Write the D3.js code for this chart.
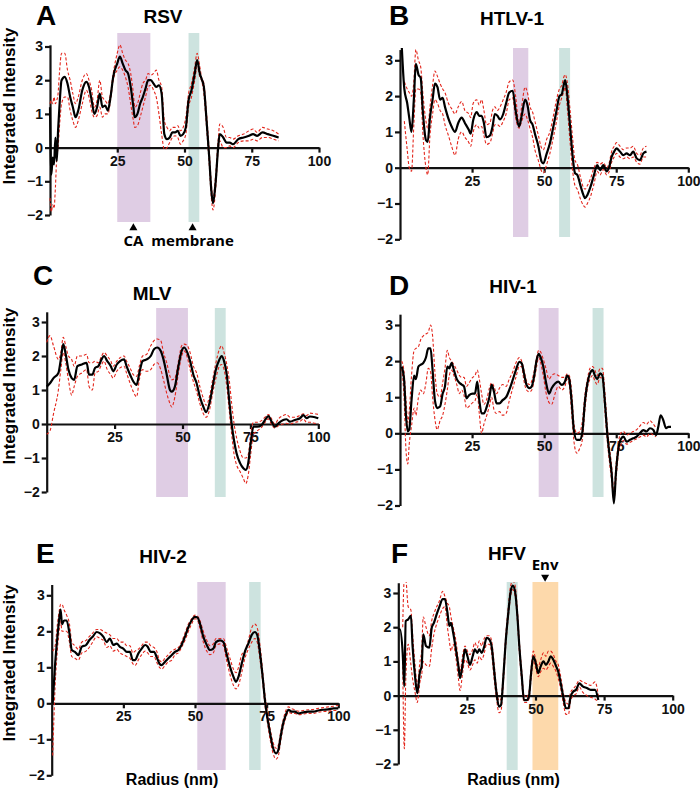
<!DOCTYPE html>
<html>
<head>
<meta charset="utf-8">
<script src="https://cdn.jsdelivr.net/npm/d3@7"></script>
<style>
  body { margin: 0; background: #fff; }
  svg text { font-family: "Liberation Sans", Arial, sans-serif; font-weight: bold; }
  .axis path, .axis line { stroke: #111; stroke-width: 2.2px; }
  .mean { fill: none; stroke: #000; stroke-width: 2.2px; }
  .spread { fill: none; stroke: #e3261c; stroke-width: 1.1px; stroke-dasharray: 3,2; }
  .note { font-family: "Open Sans", sans-serif !important; font-size: 15px; }
</style>
</head>
<body>
<svg id="chart"></svg>
<script>
// ---------- data (radius in nm, integrated intensity) ----------
const panelLetters = ["A", "B", "C", "D", "E", "F"];
const virusNames = ["RSV", "HTLV-1", "MLV", "HIV-1", "HIV-2", "HFV"];
const xTicks = [25, 50, 75, 100];
const yTicks = [-2, -1, 0, 1, 2, 3];

// RSV
const rsvRadius = [0,0.5,1,1.5,2,2.5,3,3.5,4.3,5.5,6.5,7.5,8.5,9.5,10.5,12,13.5,14.5,15.5,16.5,17.5,18.5,19.5,20.5,21.5,22.5,23.5,25,26,27,28,29,30,31,31.5,32.5,33.5,34.5,35.5,36.5,37.5,38.5,39.5,40.5,41.5,42.5,43.5,44.5,45.5,46.5,47.5,48.5,49.5,50.5,51.5,52.6,53.8,54.7,55.7,56.3,57.2,58.2,59.2,60,60.6,61.6,62.5,63.1,64.4,65.6,66.8,68,70,72,74,75.5,77,79,81,83,85];
const rsvMean  = [1.2,-0.8,-0.3,-0.5,0.3,-0.4,0.5,1.2,2.0,2.1,1.9,1.5,1.2,0.9,1.1,1.7,1.95,1.8,1.4,1.0,1.2,1.6,1.2,1.25,1.1,1.5,2.1,2.5,2.7,2.5,2.3,2.2,1.8,1.2,0.9,1.0,1.3,1.5,1.75,2.0,2.0,1.9,1.8,1.85,1.6,0.4,0.25,0.3,0.45,0.45,0.5,0.35,0.4,0.6,1.4,1.7,2.2,2.6,2.2,2.05,1.8,0.8,-0.3,-1.3,-1.65,-1.0,0.0,0.4,0.3,0.15,0.15,0.1,0.25,0.3,0.35,0.4,0.35,0.45,0.4,0.35,0.3];
const rsvUpper = [1.3,1.4,1.3,1.5,1.3,1.4,1.6,2.2,2.8,2.8,2.3,2.0,1.6,1.3,1.5,2.0,2.2,2.0,1.7,1.2,1.4,2.0,1.5,1.4,1.3,1.6,2.2,2.8,3.05,2.8,2.6,2.5,2.2,1.6,1.2,1.3,1.6,1.9,2.0,2.2,2.15,2.2,2.3,2.0,1.8,0.8,0.6,0.5,0.6,0.6,0.65,0.5,0.6,0.9,1.6,1.9,2.4,2.8,2.4,2.1,1.9,1.0,-0.1,-1.1,-1.5,-0.8,0.2,0.7,0.6,0.3,0.3,0.25,0.35,0.4,0.5,0.55,0.45,0.6,0.55,0.5,0.4];
const rsvLower = [-1.5,-1.9,-1.7,-1.8,-1.2,-0.3,0.0,0.6,1.3,1.5,1.5,1.1,0.8,0.6,0.8,1.3,1.7,1.5,1.1,0.9,0.95,1.2,0.9,1.0,1.0,1.4,2.0,2.3,2.4,2.3,2.1,1.8,1.3,0.8,0.6,0.65,0.9,1.2,1.5,1.8,1.85,1.7,1.5,1.0,0.4,-0.05,0.0,0.15,0.3,0.35,0.3,0.1,0.2,0.4,1.2,1.5,2.0,2.4,2.1,2.0,1.6,0.6,-0.5,-1.5,-1.85,-1.2,-0.1,0.2,0.0,0.0,0.05,0.0,0.15,0.2,0.2,0.25,0.2,0.3,0.3,0.25,0.2];

// HTLV-1
const htlvRadius = [0.6,1.5,2.5,3.2,4,4.8,5.5,6.4,7.2,7.9,9,9.6,10.4,11.3,12.1,13,13.9,14.8,15.6,16.8,17.9,19.1,20.2,21.4,22.5,23.9,24.5,25.4,26.6,27.5,28.3,29.1,30,31.2,32.1,32.9,33.8,34.7,35.8,36.8,37.9,39.1,40.1,41.3,42.2,43.4,44.2,45.1,46,46.8,48,49.1,49.7,50.9,52,53.2,54.3,55.3,56.1,56.9,57.3,58,59,59.9,60.7,61.5,62.7,63.6,64.2,65,66.1,67.3,68.4,69.4,70.5,71.7,72.6,73.4,74.3,75.1,76.3,77.5,78.6,79.8,80.9,82.1,83.2,84.4,85.5];
const htlvMean  = [3.4,2.2,1.8,1.4,1.0,1.9,2.9,2.6,2.5,1.6,0.77,0.72,1.4,1.9,2.35,2.25,1.9,1.95,1.7,1.37,1.15,1.0,1.25,1.4,1.25,1.05,0.95,1.33,1.55,1.45,1.45,1.25,0.85,0.9,1.15,1.5,1.45,1.35,1.5,1.8,2.1,2.15,1.6,1.15,1.45,1.9,1.75,1.33,1.2,0.95,0.6,0.17,0.12,0.4,0.68,1.15,1.6,2.0,2.05,2.35,2.45,2.05,1.15,0.3,-0.15,-0.2,-0.53,-0.76,-0.85,-0.76,-0.53,-0.2,0.07,-0.07,0.07,-0.1,0.03,0.3,0.45,0.54,0.45,0.35,0.4,0.35,0.45,0.26,0.21,0.4,0.45];
const htlvUpper = [null,2.4,2.2,2.1,2.0,2.4,3.3,3.0,2.8,2.1,1.3,1.1,1.7,2.3,2.7,2.55,2.35,2.2,2.1,1.8,1.65,1.5,1.7,1.85,1.6,1.5,1.4,1.8,1.9,1.75,1.9,1.6,1.2,1.25,1.6,1.7,1.6,1.7,1.9,2.1,2.4,2.45,2.0,1.2,1.7,2.25,2.1,1.7,1.55,1.3,0.9,0.55,0.5,0.8,1.0,1.45,1.9,2.2,2.3,2.55,2.6,2.4,1.6,0.8,0.2,0.1,-0.3,-0.55,-0.6,-0.5,-0.3,0.0,0.15,0.1,0.15,0.0,0.15,0.45,0.6,0.7,0.6,0.5,0.55,0.55,0.6,0.4,0.35,0.55,0.6];
const htlvLower = [null,1.3,0.5,0.0,-0.1,1.2,2.2,2.2,2.1,1.0,0.0,-0.2,0.9,1.5,1.9,1.8,1.6,1.5,1.2,0.9,0.6,0.35,0.8,1.0,0.85,0.7,0.6,1.0,1.2,1.1,1.15,0.9,0.65,0.7,0.95,1.2,1.2,1.15,1.3,1.5,1.9,1.95,1.4,1.1,1.3,1.5,1.35,1.1,0.85,0.5,0.2,-0.1,-0.15,0.1,0.4,0.85,1.3,1.75,1.95,2.15,2.25,1.7,0.7,-0.1,-0.5,-0.6,-0.9,-1.05,-1.1,-1.0,-0.8,-0.45,-0.1,-0.2,-0.05,-0.2,-0.1,0.15,0.3,0.4,0.3,0.25,0.3,0.25,0.3,0.15,0.1,0.3,0.3];

// MLV
const mlvRadius = [0,1.2,2.5,4.3,5.2,6.1,7,8,9.2,10.1,11.3,12.9,14.7,15.6,16.8,17.8,19,20.2,21.1,22.3,23.6,24.5,25.8,27,28.5,29.4,30.7,31.9,33.1,34.1,35.3,36.8,38.3,39.5,40.7,42,43,44.2,45.4,46,47.2,48.5,49.7,50.6,51.8,52.8,54,55.2,56.4,57.7,58.7,59.9,61.1,62.3,63.6,64.4,65.3,66.3,67.2,68.1,69,69.9,71.2,72.4,73.3,74.2,75.1,76.1,77.5,79.1,80.4,81.6,82.8,84,85.3,87.1,88.3,89.6,91.4,93.3,94.5,95.7,96.9,98.8,100];
const mlvMean  = [1.1,1.2,1.35,1.5,1.9,2.35,2.05,1.6,1.35,1.3,1.7,1.75,1.8,1.45,1.45,1.65,1.7,1.9,2.0,1.85,1.7,1.55,1.75,1.85,1.9,1.7,1.45,1.25,1.15,1.5,1.85,1.9,2.0,2.2,2.25,2.15,1.9,1.45,1.0,0.95,1.1,1.7,2.15,2.25,2.1,1.85,1.45,1.2,0.8,0.5,0.35,0.6,1.1,1.6,1.9,2.0,1.85,1.45,0.7,0.0,-0.5,-0.86,-1.15,-1.3,-1.35,-1.15,-0.57,-0.08,-0.08,-0.03,0.12,0.23,0.07,-0.08,0.02,0.12,0.14,0.07,0.12,0.17,0.26,0.17,0.22,0.2,0.17];
const mlvUpper = [2.4,2.6,2.3,1.9,2.1,2.55,2.3,2.0,1.9,1.7,2.0,2.0,2.05,1.8,1.8,1.85,1.8,2.0,2.1,2.0,1.85,1.7,1.85,1.95,2.0,1.85,1.65,1.45,1.4,1.7,2.0,2.05,2.3,2.45,2.5,2.45,2.1,1.8,1.4,1.3,1.35,1.85,2.3,2.35,2.3,2.1,1.7,1.5,1.1,0.75,0.55,0.8,1.3,1.8,2.2,2.3,2.1,1.75,1.3,0.6,0.0,-0.4,-0.8,-1.0,-1.0,-0.9,-0.3,0.05,0.05,0.1,0.2,0.28,0.15,0.0,0.15,0.25,0.28,0.2,0.2,0.25,0.3,0.25,0.32,0.3,0.28];
const mlvLower = [-0.3,-0.2,0.3,1.0,1.6,2.1,1.8,1.3,0.85,1.1,1.4,1.5,1.6,1.1,1.0,1.5,1.55,1.75,1.85,1.6,1.45,1.35,1.55,1.65,1.7,1.5,1.2,0.95,0.8,1.3,1.6,1.55,1.6,1.75,1.8,1.6,1.3,0.9,0.6,0.5,0.8,1.5,2.0,2.15,1.95,1.6,1.25,0.95,0.6,0.3,0.2,0.4,0.9,1.35,1.7,1.75,1.6,1.1,0.4,-0.3,-0.9,-1.2,-1.4,-1.6,-1.75,-1.5,-0.9,-0.3,-0.2,-0.1,0.05,0.15,-0.02,-0.12,-0.05,0.0,0.02,0.0,0.05,0.08,0.15,0.05,0.05,0.02,0.0];

// HIV-1
const hiv1Radius = [0.6,1.4,2.1,2.7,3.2,4,4.9,5.5,6.4,7.2,8.1,9,9.8,10.6,11.3,12.1,12.9,13.9,14.8,15.6,16.4,17.1,17.9,18.7,19.7,20.6,21.4,22.2,23.1,24,25.2,26,26.8,27.5,28.3,29.1,30.1,31,31.8,32.6,33.5,34.5,35.6,36.8,37.9,39.1,40.2,41.4,42.2,43,43.9,44.9,45.7,46.5,47.4,48.1,48.8,49.7,50.6,51.7,52.6,53.8,54.9,56.1,57.2,58,58.7,59.5,60.3,61.3,62.4,63.2,64.2,65,65.9,66.8,67.6,68.4,69.4,70.2,71.1,71.9,72.6,73.4,74.2,74.9,75.7,76.5,77.5,78.6,79.8,80.9,82.1,83.2,84.4,85.5,86.7,87.9,88.8,89.6,90.4,91.3,92.3,93.1,94];
const hiv1Mean  = [1.85,1.5,0.46,0.05,0.1,0.92,1.6,1.5,1.85,1.9,1.95,2.1,2.35,2.35,1.75,0.92,0.7,0.74,1.1,1.3,1.85,1.8,1.95,1.75,1.5,1.4,1.35,1.3,0.97,1.06,1.1,1.1,1.43,0.92,0.55,0.55,0.74,1.0,1.34,1.15,0.83,0.83,0.92,1.0,1.2,1.48,1.75,1.98,1.94,1.66,1.34,1.25,1.3,1.57,2.03,2.2,2.1,1.85,1.43,1.1,1.25,1.38,1.43,1.34,1.43,1.6,1.5,0.92,0.09,-0.18,-0.18,0.0,0.92,1.38,1.66,1.75,1.6,1.5,1.66,1.6,0.83,0.0,-0.55,-1.1,-1.94,-1.1,-0.46,-0.18,-0.09,-0.23,-0.18,-0.14,-0.09,0.0,0.09,0.05,0.14,0.09,-0.05,0.18,0.5,0.37,0.14,0.18,0.18];
const hiv1Upper = [2.0,1.7,0.9,0.3,0.6,1.6,2.3,2.35,2.4,2.6,2.7,2.75,2.8,3.0,2.7,1.7,1.1,1.0,1.4,1.8,2.3,2.1,2.0,1.9,1.75,1.6,1.55,1.55,1.3,1.4,1.55,1.6,1.75,1.5,1.1,0.8,0.95,1.25,1.4,1.3,1.1,1.25,1.35,1.3,1.5,1.7,1.95,2.1,2.0,1.75,1.45,1.35,1.45,1.7,2.1,2.3,2.25,2.05,1.8,1.5,1.6,1.65,1.6,1.55,1.55,1.65,1.6,1.2,0.3,0.0,0.05,0.3,1.1,1.5,1.8,1.85,1.75,1.6,1.8,1.8,1.1,0.2,-0.35,-0.9,-1.65,-0.9,-0.3,0.0,0.05,-0.05,0.0,0.05,0.1,0.2,0.3,0.25,0.35,0.25,0.15,null,null,null,null,null,null];
const hiv1Lower = [1.8,1.0,-0.5,-0.85,-0.3,0.2,0.7,0.5,1.0,1.2,1.1,1.4,1.8,1.7,1.0,0.4,0.1,0.35,0.5,0.8,1.2,1.6,1.75,1.6,1.35,1.1,1.2,1.05,0.7,0.75,0.85,0.9,1.1,0.55,0.0,0.25,0.5,0.75,1.0,0.65,0.55,0.6,0.5,0.55,0.9,1.25,1.55,1.85,1.85,1.45,1.2,1.15,1.2,1.45,1.85,2.1,1.95,1.6,1.15,0.85,0.8,1.1,1.3,1.2,1.3,1.5,1.35,0.6,-0.2,-0.55,-0.4,-0.2,0.7,1.25,1.5,1.6,1.45,1.35,1.55,1.5,0.6,-0.2,-0.75,-1.3,-1.85,-1.3,-0.6,-0.35,-0.2,-0.3,-0.25,-0.2,-0.15,-0.1,-0.05,-0.1,0.0,-0.05,-0.1,null,null,null,null,null,null];

// HIV-2
const hiv2Radius = [0.35,1.2,2,2.7,3.1,3.6,4.3,5.2,6.2,7,8.1,9.3,10.5,12,13.1,14.3,15.7,16.9,18,19.2,20.3,21.5,22.7,23.8,25,26.2,27.3,28.3,29.1,30.2,31.4,32.6,33.5,34.5,35.7,36.6,37.6,38.4,39.5,40.7,41.9,43,44.2,45.3,46.5,47.7,48.8,50,50.9,51.7,52.9,54.1,55.2,56.4,57.3,58.7,59.9,61,62.2,63.4,64.3,65.2,66.3,67.4,68.6,69.8,70.9,71.7,72.7,73.6,74.4,75.2,76.2,77.1,78.3,79.1,79.9,80.8,81.7,82.6,83.7,84.9,86,87.8,89.5,91.3,93,94.8,96.5,98.3,100];
const hiv2Mean  = [0.0,1.1,1.85,2.4,2.6,2.2,2.3,2.3,1.94,1.48,1.43,1.34,1.57,1.62,1.75,1.85,1.98,1.94,1.85,1.7,1.8,1.62,1.66,1.57,1.52,1.43,1.43,1.2,1.2,1.38,1.52,1.62,1.57,1.43,1.43,1.29,1.1,1.06,1.15,1.25,1.34,1.43,1.48,1.62,1.85,2.12,2.3,2.4,2.38,2.22,1.85,1.62,1.48,1.52,1.7,1.75,1.7,1.38,1.02,0.74,0.6,0.74,1.1,1.43,1.66,1.9,1.98,1.9,1.38,0.74,0.09,-0.37,-0.83,-1.2,-1.39,-1.29,-0.92,-0.55,-0.32,-0.18,-0.23,-0.23,-0.28,-0.25,-0.23,-0.23,-0.2,-0.18,-0.17,-0.14,-0.14];
const hiv2Upper = [1.45,1.6,2.2,2.6,2.75,2.75,2.6,2.45,2.2,1.7,1.6,1.5,1.7,1.75,1.85,1.95,2.05,2.05,2.0,1.95,1.9,1.8,1.8,1.7,1.7,1.6,1.6,1.4,1.45,1.5,1.6,1.7,1.7,1.6,1.55,1.45,1.2,1.15,1.25,1.35,1.45,1.5,1.55,1.7,1.95,2.2,2.35,2.45,2.42,2.3,2.0,1.75,1.6,1.65,1.8,1.8,1.8,1.55,1.25,0.95,0.85,1.0,1.35,1.45,1.75,2.1,2.2,2.1,1.6,0.9,0.25,-0.2,-0.7,-1.05,-1.25,-1.15,-0.8,-0.45,-0.2,-0.1,-0.15,-0.18,-0.22,-0.2,-0.18,-0.17,-0.14,-0.12,-0.1,-0.08,-0.06];
const hiv2Lower = [-1.45,0.5,1.5,2.1,2.3,2.0,2.0,2.0,1.7,1.3,1.25,1.2,1.4,1.45,1.55,1.7,1.85,1.8,1.75,1.55,1.6,1.45,1.5,1.4,1.35,1.3,1.25,1.1,1.05,1.2,1.35,1.45,1.4,1.3,1.3,1.15,1.0,0.95,1.05,1.15,1.2,1.35,1.4,1.55,1.75,2.0,2.2,2.35,2.3,2.1,1.7,1.45,1.35,1.4,1.6,1.65,1.6,1.2,0.8,0.5,0.4,0.5,0.85,1.25,1.5,1.7,1.8,1.7,1.2,0.6,-0.05,-0.5,-1.0,-1.35,-1.55,-1.45,-1.05,-0.65,-0.4,-0.25,-0.28,-0.28,-0.32,-0.3,-0.28,-0.28,-0.25,-0.23,-0.22,-0.2,-0.2];

// HFV
const hfvRadius = [0,0.6,1.6,2.2,2.7,3.6,4.6,5.2,6.1,6.9,7.9,8.5,9.1,10.1,11.3,12.2,13,14,14.9,16.2,17,17.9,18.6,19.2,20,21,21.9,22.5,23.5,24.3,25.2,26.1,27.1,27.9,28.8,29.5,30.4,31.2,32.2,33.2,34,34.9,35.8,36.7,37.4,38.3,39.1,40.1,40.9,41.7,42.5,43.4,44.1,45,45.8,46.8,47.6,48.4,49.2,50.1,51,51.9,52.9,53.8,54.7,55.5,56.5,57.5,58.3,59.2,60.1,61.1,62,62.8,63.8,64.8,66,67.2,68.7,70.1,71.7,72.9];
const hfvMean  = [1.94,1.94,1.25,0.27,2.18,2.23,2.33,1.45,0.56,0.07,0.7,0.86,1.79,1.45,1.4,1.99,2.13,2.38,2.58,2.82,2.82,2.43,2.04,2.13,1.84,1.35,0.86,0.51,0.95,1.35,1.15,0.9,1.15,1.35,1.25,1.35,1.25,1.4,1.69,1.64,1.45,0.76,0.07,-0.32,-0.28,0.56,1.54,2.43,3.02,3.22,3.07,2.33,1.45,0.56,-0.13,-0.13,-0.03,0.66,1.15,0.95,0.66,0.86,1.0,0.9,1.0,1.15,1.05,0.86,0.7,0.36,-0.03,-0.37,-0.37,-0.03,0.12,0.17,0.36,0.27,0.22,0.17,0.17,-0.13];
const hfvUpper = [null,null,2.0,3.4,3.4,2.6,2.5,1.8,0.9,0.3,1.0,1.3,2.3,2.0,1.75,2.2,2.4,2.6,2.75,3.05,2.9,2.7,2.6,2.3,2.0,1.6,1.0,0.7,1.2,1.45,1.3,1.2,1.35,1.55,1.4,1.6,1.45,1.65,1.75,1.75,1.6,0.95,0.2,-0.15,-0.1,0.7,1.7,2.6,3.2,3.35,3.25,2.5,1.6,0.7,0.0,-0.05,0.1,0.8,1.3,1.05,0.85,1.05,1.25,1.15,1.3,1.3,1.2,1.0,0.9,0.55,0.1,-0.2,-0.25,0.1,0.2,0.3,0.45,0.4,0.35,0.3,0.4,0.0];
const hfvLower = [null,null,1.0,-1.55,0.4,1.5,0.9,0.5,0.1,-0.2,0.4,0.6,1.0,0.9,0.85,1.4,1.8,2.1,2.3,2.55,2.6,2.0,1.6,1.3,1.5,1.1,0.5,0.15,0.7,1.05,0.95,0.75,0.9,1.05,0.95,1.15,1.05,1.2,1.5,1.5,1.25,0.5,-0.1,-0.5,-0.45,0.4,1.4,2.3,2.9,3.1,2.95,2.2,1.3,0.4,-0.2,-0.2,-0.1,0.5,1.0,0.8,0.55,0.7,0.8,0.75,0.85,0.95,0.85,0.7,0.5,0.2,-0.2,-0.55,-0.55,-0.15,0.0,0.05,0.25,0.1,0.0,-0.05,-0.1,-0.2];

// shaded regions [from, to] in nm and what they mark
const rsvBands  = [[25, 37.3, "CA"], [51.5, 55.5, "membrane"]];
const htlvBands = [[39.2, 44.5, "CA"], [55.2, 59, "membrane"]];
const mlvBands  = [[40.3, 52, "CA"], [61.9, 65.9, "membrane"]];
const hiv1Bands = [[48.1, 55, "CA"], [66.8, 70.6, "membrane"]];
const hiv2Bands = [[50.8, 60.7, "CA"], [68.9, 72.9, "membrane"]];
const hfvBands  = [[39.5, 43.5, "membrane"], [48.9, 58.3, "Env"]];

// ---------- layout (pixels) ----------
const width = 700, height = 790;
const bandColor = { CA: "#dfcde4", membrane: "#cde3df", Env: "#fdd9ab" };

// x0/x100 = pixel of radius 0/100, y3/yM2 = pixel of intensity 3/-2
const frames = [
    { x0: 50,    x100: 319,   y3: 46.5, yM2: 215,   yMax: 3.05, bandTop: 33,    bandBot: 222,   titleX: 163, titleY: 23,  letterX: 36,  letterY: 25,  ylab: 106 },
    { x0: 400,   x100: 688.3, y3: 60.3, yM2: 239.3, yMax: 3.3,  bandTop: 48,    bandBot: 237,   titleX: 512, titleY: 25,  letterX: 389, letterY: 25 },
    { x0: 46.7,  x100: 318.3, y3: 322,  yM2: 492,   yMax: 3.3,  bandTop: 308,   bandBot: 497,   titleX: 152, titleY: 300, letterX: 33,  letterY: 285, ylab: 386 },
    { x0: 400,   x100: 688.3, y3: 325,  yM2: 505.5, yMax: 3.3,  bandTop: 308,   bandBot: 497,   titleX: 513, titleY: 293, letterX: 389, letterY: 295 },
    { x0: 51.7,  x100: 338.3, y3: 595.3,yM2: 775.3, yMax: 3.3,  bandTop: 582,   bandBot: 770,   titleX: 163, titleY: 563, letterX: 36,  letterY: 563, ylab: 663, xlab: true },
    { x0: 398.3, x100: 672.7, y3: 593,  yM2: 764,   yMax: 3.3,  bandTop: 582,   bandBot: 770,   titleX: 507, titleY: 560, letterX: 391, letterY: 563, xlab: true }
];

const series = [
    [rsvRadius, rsvMean, rsvUpper, rsvLower, rsvBands],
    [htlvRadius, htlvMean, htlvUpper, htlvLower, htlvBands],
    [mlvRadius, mlvMean, mlvUpper, mlvLower, mlvBands],
    [hiv1Radius, hiv1Mean, hiv1Upper, hiv1Lower, hiv1Bands],
    [hiv2Radius, hiv2Mean, hiv2Upper, hiv2Lower, hiv2Bands],
    [hfvRadius, hfvMean, hfvUpper, hfvLower, hfvBands]
];

const svg = d3.select("#chart")
    .attr("width", width)
    .attr("height", height);

svg.append("rect").attr("width", width).attr("height", height).attr("fill", "#fff");

series.forEach(function (s, i) {
    drawPanel(i, frames[i], s[0], s[1], s[2], s[3], s[4]);
});

// bold tick labels in the figure's size
function styleTicks(sel) {
    sel.selectAll("text")
        .attr("fill", "#111")
        .style("font-family", "'Liberation Sans', Arial, sans-serif")
        .style("font-weight", "bold")
        .style("font-size", "14px");
}

function drawPanel(i, f, radius, mean, upper, lower, bands) {
    // scales: 1 unit on y fixed by the 3 and -2 tick positions
    const unit = (f.yM2 - f.y3) / 5;
    const x = d3.scaleLinear().domain([0, 100]).range([f.x0, f.x100]);
    const y = d3.scaleLinear().domain([-2, f.yMax]).range([f.yM2, f.y3 - (f.yMax - 3) * unit]);

    const g = svg.append("g");

    // shaded regions
    g.selectAll(".band")
        .data(bands)
        .enter().append("rect")
        .attr("x", function (d) { return x(d[0]); })
        .attr("width", function (d) { return x(d[1]) - x(d[0]); })
        .attr("y", f.bandTop)
        .attr("height", f.bandBot - f.bandTop)
        .attr("fill", function (d) { return bandColor[d[2]]; });

    // x axis through zero
    g.append("g")
        .attr("class", "axis")
        .attr("transform", "translate(0," + y(0) + ")")
        .call(d3.axisBottom(x).tickValues(xTicks).tickFormat(d3.format("d"))
            .tickSize(5).tickSizeOuter(0).tickPadding(3))
        .call(styleTicks);

    // y axis
    g.append("g")
        .attr("class", "axis")
        .attr("transform", "translate(" + f.x0 + ",0)")
        .call(d3.axisLeft(y).tickValues(yTicks).tickFormat(d3.format("d"))
            .tickSize(5).tickSizeOuter(0).tickPadding(2))
        .call(styleTicks);

    // clip the curves to the plotting area
    const clipId = "clip" + i;
    g.append("clipPath").attr("id", clipId)
        .append("rect")
        .attr("x", f.x0 - 2).attr("y", f.bandTop)
        .attr("width", f.x100 - f.x0 + 10).attr("height", f.bandBot - f.bandTop + 10);

    const lines = g.append("g").attr("clip-path", "url(#" + clipId + ")");

    function pathOf(vals) {
        const pts = radius.map(function (r, k) { return [r, vals[k]]; });
        return d3.line()
            .defined(function (d) { return d[1] !== null; })
            .x(function (d) { return x(d[0]); })
            .y(function (d) { return y(d[1]); })
            .curve(d3.curveMonotoneX)(pts);
    }

    lines.append("path").attr("class", "spread").attr("d", pathOf(upper));
    lines.append("path").attr("class", "spread").attr("d", pathOf(lower));
    lines.append("path").attr("class", "mean").attr("d", pathOf(mean));

    // panel letter and virus name
    g.append("text")
        .attr("x", f.letterX).attr("y", f.letterY)
        .style("font-size", "28px")
        .text(panelLetters[i]);

    g.append("text")
        .attr("x", f.titleX).attr("y", f.titleY)
        .attr("text-anchor", "middle")
        .style("font-size", "19px")
        .text(virusNames[i]);

    // axis titles
    if (f.ylab) {
        g.append("text")
            .attr("transform", "translate(15," + f.ylab + ") rotate(-90)")
            .attr("text-anchor", "middle")
            .style("font-size", "17px")
            .text("Integrated Intensity");
    }
    if (f.xlab) {
        g.append("text")
            .attr("x", x(42)).attr("y", 785)
            .attr("text-anchor", "middle")
            .style("font-size", "16px")
            .text("Radius (nm)");
    }

    // markers under panel A and above panel F
    if (i === 0) {
        [[31, "CA"], [53, "membrane"]].forEach(function (m) {
            g.append("path")
                .attr("d", d3.symbol().type(d3.symbolTriangle).size(28)())
                .attr("transform", "translate(" + x(m[0]) + ",228)");
            g.append("text").attr("class", "note")
                .attr("x", x(m[0])).attr("y", 246)
                .attr("text-anchor", "middle")
                .text(m[1]);
        });
    }
    if (i === 5) {
        g.append("path")
            .attr("d", d3.symbol().type(d3.symbolTriangle).size(28)())
            .attr("transform", "translate(" + x(53.5) + ",577) rotate(180)");
        g.append("text").attr("class", "note")
            .attr("x", x(53.5)).attr("y", 570)
            .attr("text-anchor", "middle")
            .text("Env");
    }
}
</script>
</body>
</html>
